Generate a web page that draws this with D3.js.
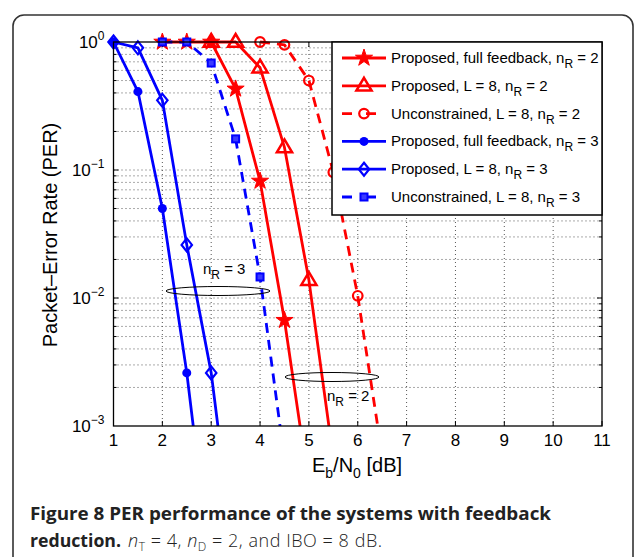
<!DOCTYPE html>
<html><head><meta charset="utf-8">
<script src="https://cdn.jsdelivr.net/npm/d3@7"></script>
<style>
body{margin:0;background:#fff;}
svg{display:block;}
</style></head>
<body>
<svg id="chart" width="635" height="557"></svg>
<script>
// ---- data ----
const xTicks = [1,2,3,4,5,6,7,8,9,10,11];
const yTickExps = [0,-1,-2,-3];

const snrFullNR2 = [2,2.5,3,3.5,4,4.5,5];
const perFullNR2 = [1,1,1,0.43,0.082,0.0067,0.00034];
const snrL8NR2 = [3,3.5,4,4.5,5,5.5];
const perL8NR2 = [1,1,0.63,0.15,0.0138,0.00056];
const snrUncNR2 = [4,4.5,5,5.5,6,6.5];
const perUncNR2 = [1,0.95,0.50,0.096,0.0104,0.00059];
const snrFullNR3 = [1,1.5,2,2.5,3];
const perFullNR3 = [1,0.41,0.050,0.0026,0.00007];
const snrL8NR3 = [1,1.5,2,2.5,3,3.5];
const perL8NR3 = [1,0.90,0.35,0.026,0.0026,0.00008];
const snrUncNR3 = [2,2.5,3,3.5,4,4.5];
const perUncNR3 = [1,1,0.685,0.175,0.0146,0.00055];

const seriesNames = [
  "Proposed, full feedback, n|R| = 2",
  "Proposed, L = 8, n|R| = 2",
  "Unconstrained, L = 8, n|R| = 2",
  "Proposed, full feedback, n|R| = 3",
  "Proposed, L = 8, n|R| = 3",
  "Unconstrained, L = 8, n|R| = 3"
];

const series = [
  {x:snrFullNR2, y:perFullNR2, color:"#ff0000", dash:null, marker:"star"},
  {x:snrL8NR2, y:perL8NR2, color:"#ff0000", dash:null, marker:"triangle"},
  {x:snrUncNR2, y:perUncNR2, color:"#ff0000", dash:"10,7", marker:"circle"},
  {x:snrFullNR3, y:perFullNR3, color:"#0000ff", dash:null, marker:"dot"},
  {x:snrL8NR3, y:perL8NR3, color:"#0000ff", dash:null, marker:"diamond"},
  {x:snrUncNR3, y:perUncNR3, color:"#0000ff", dash:"10,7", marker:"square"}
];

// ---- layout ----
const L = 113.5, R = 602, T = 42, B = 426;
const svg = d3.select("#chart");
const FONT = "'Liberation Sans', Arial, Helvetica, sans-serif";
const CAPFONT = "'Open Sans', 'Noto Sans', sans-serif";

// outer frame
svg.append("rect").attr("x",13).attr("y",15).attr("width",620).attr("height",570)
  .attr("rx",11).attr("fill","none").attr("stroke","#333").attr("stroke-width",1.6);

const x = d3.scaleLinear().domain([1,11]).range([L,R]);
const y = d3.scaleLog().domain([1e-3,1]).range([B,T]);

// grid
const grid = svg.append("g").attr("stroke","#555").attr("stroke-width",1).attr("stroke-dasharray","1,3");
xTicks.slice(1,-1).forEach(v=>{
  grid.append("line").attr("x1",x(v)).attr("x2",x(v)).attr("y1",T).attr("y2",B);
});
const minor = [];
for (let e=-3; e<0; e++) for (let m=1; m<10; m++) { const v=m*Math.pow(10,e); if (v>1e-3) minor.push(v); }
minor.forEach(v=>{
  grid.append("line").attr("x1",L).attr("x2",R).attr("y1",y(v)).attr("y2",y(v));
});

// ticks
const tk = svg.append("g").attr("stroke","#000").attr("stroke-width",1);
xTicks.forEach(v=>{
  tk.append("line").attr("x1",x(v)).attr("x2",x(v)).attr("y1",B).attr("y2",B-5);
  tk.append("line").attr("x1",x(v)).attr("x2",x(v)).attr("y1",T).attr("y2",T+5);
});
minor.forEach(v=>{
  const major = Math.abs(Math.log10(v)-Math.round(Math.log10(v)))<1e-9;
  const len = major?5:3;
  tk.append("line").attr("x1",L).attr("x2",L+len).attr("y1",y(v)).attr("y2",y(v));
  tk.append("line").attr("x1",R).attr("x2",R-len).attr("y1",y(v)).attr("y2",y(v));
});

// clip
svg.append("clipPath").attr("id","clip").append("rect")
  .attr("x",L-12).attr("y",T-12).attr("width",R-L+24).attr("height",B-T+12);

const plot = svg.append("g").attr("clip-path","url(#clip)");

function drawMarker(g, type, cx, cy, color){
  if (type==="star"){
    const pts=[];
    for(let i=0;i<10;i++){const r=i%2?3.5:9;const a=-Math.PI/2+i*Math.PI/5;pts.push([cx+r*Math.cos(a),cy+r*Math.sin(a)]);}
    g.append("polygon").attr("points",pts.map(p=>p.join(",")).join(" ")).attr("fill",color).attr("stroke",color).attr("stroke-width",1);
  } else if (type==="triangle"){
    const s=8;
    g.append("polygon").attr("points",`${cx},${cy-s} ${cx+s*0.95},${cy+s*0.6} ${cx-s*0.95},${cy+s*0.6}`)
      .attr("fill","none").attr("stroke",color).attr("stroke-width",2.5);
  } else if (type==="circle"){
    g.append("circle").attr("cx",cx).attr("cy",cy).attr("r",4.8).attr("fill","none").attr("stroke",color).attr("stroke-width",2.2);
  } else if (type==="dot"){
    g.append("circle").attr("cx",cx).attr("cy",cy).attr("r",4.5).attr("fill",color);
  } else if (type==="diamond"){
    const s=6.5;
    g.append("polygon").attr("points",`${cx},${cy-s} ${cx+s*0.8},${cy} ${cx},${cy+s} ${cx-s*0.8},${cy}`)
      .attr("fill","none").attr("stroke",color).attr("stroke-width",2.2);
  } else if (type==="square"){
    g.append("rect").attr("x",cx-3.5).attr("y",cy-3.5).attr("width",7).attr("height",7)
      .attr("fill","#3a3aff").attr("stroke",color).attr("stroke-width",2);
  }
}

const line = d3.line().x(d=>x(d[0])).y(d=>y(d[1]));
series.forEach(s=>{
  const pts = s.x.map((v,i)=>[v,s.y[i]]);
  plot.append("path").attr("d",line(pts)).attr("fill","none").attr("stroke",s.color)
    .attr("stroke-width",2.8).attr("stroke-dasharray",s.dash).attr("stroke-linejoin","round");
});
series.forEach(s=>{
  s.x.forEach((v,i)=>{ if (s.y[i]>=1e-3) drawMarker(plot, s.marker, x(v), y(s.y[i]), s.color); });
});

// axes box
svg.append("rect").attr("x",L).attr("y",T).attr("width",R-L).attr("height",B-T)
  .attr("fill","none").attr("stroke","#000").attr("stroke-width",1.3);

// tick labels
const lab = svg.append("g").attr("font-family",FONT).attr("font-size",17).attr("fill","#000");
xTicks.forEach(v=>{
  lab.append("text").attr("x",x(v)).attr("y",B+20).attr("text-anchor","middle").text(v);
});
yTickExps.forEach(e=>{
  const t = lab.append("text").attr("x",L-9).attr("y",y(Math.pow(10,e))+6).attr("text-anchor","end");
  t.append("tspan").text("10");
  t.append("tspan").attr("font-size",12).attr("dy",-8).text(e===0?"0":"\u2212"+(-e));
});

// axis titles
const xt = svg.append("text").attr("x",357).attr("y",472).attr("text-anchor","middle")
  .attr("font-family",FONT).attr("font-size",20);
xt.append("tspan").text("E");
xt.append("tspan").attr("font-size",14).attr("dy",6).text("b");
xt.append("tspan").attr("dy",-6).text("/N");
xt.append("tspan").attr("font-size",14).attr("dy",6).text("0");
xt.append("tspan").attr("dy",-6).text(" [dB]");

svg.append("text").attr("transform","translate(57,235) rotate(-90)").attr("text-anchor","middle")
  .attr("font-family",FONT).attr("font-size",20).text("Packet\u2013Error Rate (PER)");

// annotations
function subText(g, xx, yy, main, sub, rest, fs){
  const t = g.append("text").attr("x",xx).attr("y",yy).attr("font-family",FONT).attr("font-size",fs);
  t.append("tspan").text(main);
  t.append("tspan").attr("font-size",fs*0.8).attr("dy",5).text(sub);
  t.append("tspan").attr("dy",-5).text(rest);
  return t;
}
svg.append("ellipse").attr("cx",218).attr("cy",291).attr("rx",52).attr("ry",4.5)
  .attr("fill","none").attr("stroke","#000").attr("stroke-width",1);
subText(svg,203,274,"n","R"," = 3",15);
svg.append("ellipse").attr("cx",332).attr("cy",377).attr("rx",47).attr("ry",4.5)
  .attr("fill","none").attr("stroke","#000").attr("stroke-width",1);
subText(svg,327,401,"n","R"," = 2",15);

// legend
const lg = svg.append("g");
lg.append("rect").attr("x",332).attr("y",T).attr("width",R-332).attr("height",173)
  .attr("fill","#fff").attr("stroke","#000").attr("stroke-width",1.5);
seriesNames.forEach((name,i)=>{
  const s = series[i];
  const cy = 58 + i*27.8;
  lg.append("line").attr("x1",342).attr("x2",386).attr("y1",cy).attr("y2",cy)
    .attr("stroke",s.color).attr("stroke-width",2.8).attr("stroke-dasharray",s.dash?"10,14":null);
  drawMarker(lg, s.marker, 364, cy, s.color);
  const parts = name.split("|");
  subText(lg, 391, cy+5, parts[0], parts[1], parts[2], 15);
});

// caption
const cap = svg.append("g").attr("font-family",CAPFONT).attr("font-size",18).attr("fill","#222");
cap.append("text").attr("x",30).attr("y",520).attr("font-weight","bold")
  .attr("textLength",521).attr("lengthAdjust","spacingAndGlyphs")
  .text("Figure 8 PER performance of the systems with feedback");
cap.append("text").attr("x",30).attr("y",547).attr("font-weight","bold")
  .attr("textLength",91).attr("lengthAdjust","spacingAndGlyphs").text("reduction.");
const c2 = cap.append("text").attr("x",128).attr("y",547).attr("font-weight",300)
  .attr("textLength",254).attr("lengthAdjust","spacing");
c2.append("tspan").attr("font-style","italic").text("n");
c2.append("tspan").attr("font-size",12).attr("dy",4).text("T");
c2.append("tspan").attr("dy",-4).text(" = 4, ");
c2.append("tspan").attr("font-style","italic").text("n");
c2.append("tspan").attr("font-size",12).attr("dy",4).text("D");
c2.append("tspan").attr("dy",-4).text(" = 2, and IBO = 8 dB.");
</script>
</body></html>
